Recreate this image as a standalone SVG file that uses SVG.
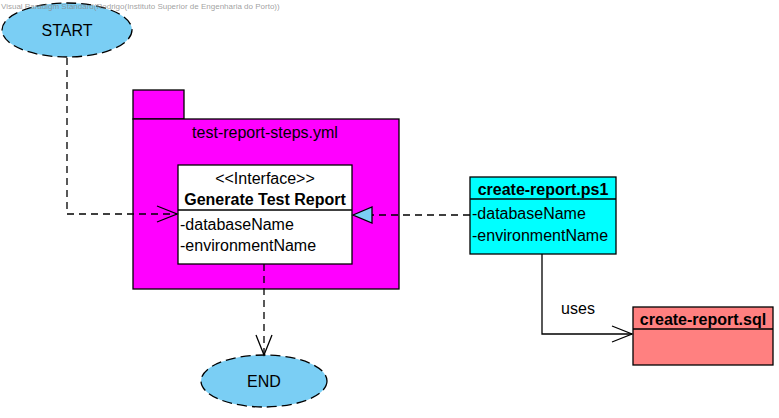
<svg xmlns="http://www.w3.org/2000/svg" width="779" height="418" viewBox="0 0 779 418">
<style>
text{font-family:"Liberation Sans",Arial,sans-serif;fill:#000}
.t{font-size:16px}
.b{font-size:16px;font-weight:bold}
.c{text-anchor:middle}
.ell{fill:#7acef4;stroke:#000;stroke-width:1.3;stroke-dasharray:10,5}
.box{stroke:#000;stroke-width:1.3}
.dash{fill:none;stroke:#000;stroke-width:1.3;stroke-dasharray:7,5}
.solid{fill:none;stroke:#000;stroke-width:1.3}
</style>
<defs>
<marker id="open" markerWidth="24" markerHeight="20" refX="22" refY="10" orient="auto" markerUnits="userSpaceOnUse">
<path d="M2,2 L22,10 L2,18" fill="none" stroke="#000" stroke-width="1.3"/>
</marker>
</defs>
<g id="start">
<ellipse class="ell" cx="67" cy="30" rx="65" ry="27"/>
<text x="67" y="36" class="t c">START</text>
</g>
<g id="package">
<rect class="box" x="133" y="90" width="51" height="29" fill="#ff00ff"/>
<rect class="box" x="133" y="119" width="266" height="170" fill="#ff00ff"/>
<text x="265" y="138" class="t c">test-report-steps.yml</text>
</g>
<g id="interface">
<rect class="box" x="178" y="165" width="174" height="99" fill="#fff"/>
<line class="box" x1="178" y1="210" x2="352" y2="210"/>
<text x="265" y="184" class="t c">&lt;&lt;Interface&gt;&gt;</text>
<text x="265" y="205" class="b c">Generate Test Report</text>
<text x="180" y="230" class="t">-databaseName</text>
<text x="180" y="251" class="t">-environmentName</text>
</g>
<g id="ps1">
<rect class="box" x="470" y="177" width="146" height="77" fill="#00ffff"/>
<line class="box" x1="470" y1="199" x2="616" y2="199"/>
<text x="543" y="195" class="b c">create-report.ps1</text>
<text x="472" y="219" class="t">-databaseName</text>
<text x="472" y="241" class="t">-environmentName</text>
</g>
<g id="sql">
<rect class="box" x="633" y="307" width="140" height="58" fill="#ff8080"/>
<line class="box" x1="633" y1="329" x2="773" y2="329"/>
<text x="703" y="325" class="b c">create-report.sql</text>
</g>
<g id="end">
<ellipse class="ell" cx="264" cy="381" rx="63" ry="26"/>
<text x="264" y="387" class="t c">END</text>
</g>
<g id="connectors">
<path class="dash" d="M67,58 V214 H177" marker-end="url(#open)"/>
<path class="dash" d="M264,264 V355" marker-end="url(#open)"/>
<path class="dash" d="M470,215 H372"/>
<polygon points="353,215 372,207 372,223" fill="#7acef4" stroke="#000" stroke-width="1.3"/>
<path class="solid" d="M542,254 V334 H632" marker-end="url(#open)"/>
<text x="578" y="314" class="t c">uses</text>
</g>
<text x="1" y="9" style="font-size:8px;fill:#888;fill-opacity:0.8">Visual Paradigm Standard(Rodrigo(Instituto Superior de Engenharia do Porto))</text>
</svg>
